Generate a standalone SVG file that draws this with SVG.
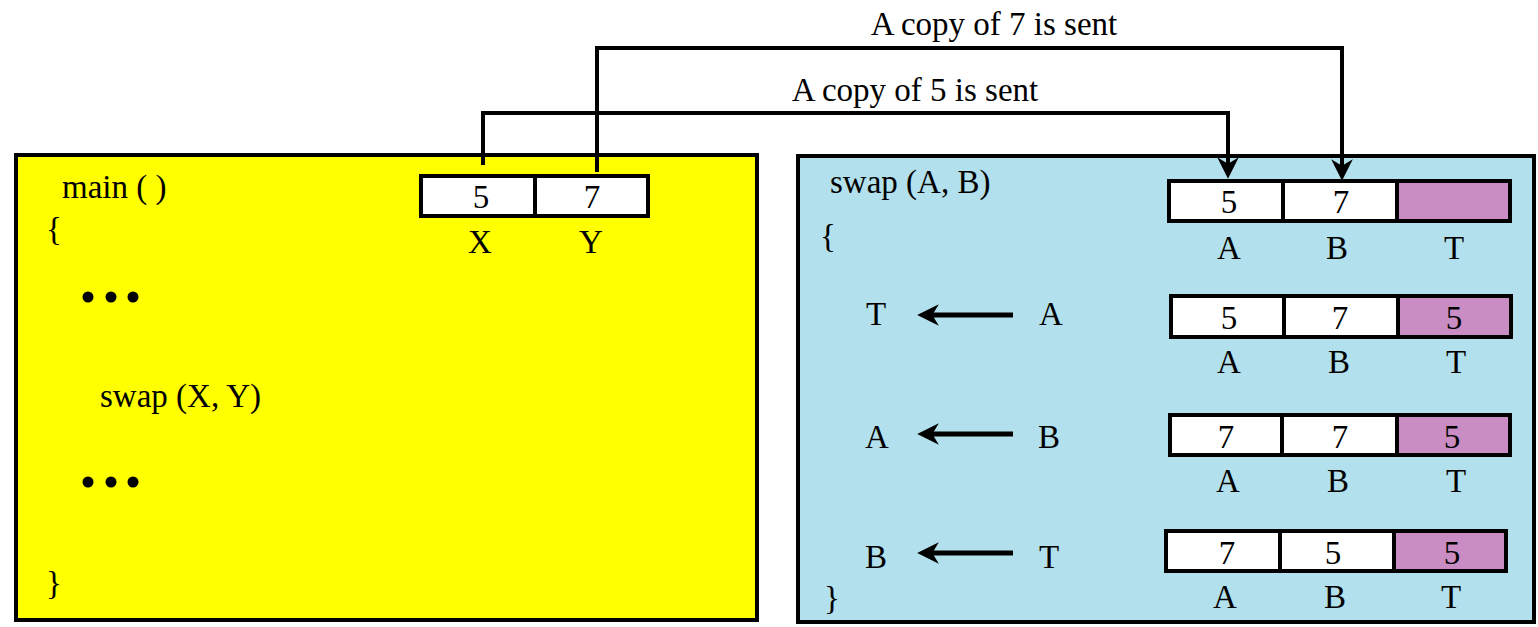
<svg xmlns="http://www.w3.org/2000/svg" width="1538" height="627" viewBox="0 0 1538 627">
<style>
text{font-family:"Liberation Serif","Times New Roman",serif;font-size:33px;fill:#000}
.c{text-anchor:middle}
.panel{stroke:#000;stroke-width:4}
.cell{fill:#fff;stroke:#000;stroke-width:4}
.tcell{fill:#C98DC3;stroke:#000;stroke-width:4}
.conn{fill:none;stroke:#000;stroke-width:4}
.asg{fill:none;stroke:#000;stroke-width:5}
</style>
<defs>
<marker id="ah" markerUnits="userSpaceOnUse" markerWidth="26" markerHeight="26" viewBox="-22 -12 24 24" refX="-10" refY="0" orient="auto">
<path d="M0,0 L-20,-10 L-14,0 L-20,10 Z" fill="#000"/>
</marker>
</defs>
<g id="main-panel">
<rect class="panel" x="16" y="155" width="741" height="465" fill="#FFFF00"/>
<text x="62" y="198">main ( )</text>
<text x="46" y="240">{</text>
<circle cx="88" cy="297" r="5.5"/><circle cx="111" cy="297" r="5.5"/><circle cx="133" cy="297" r="5.5"/>
<text x="100" y="407">swap (X, Y)</text>
<circle cx="88" cy="482" r="5.5"/><circle cx="111" cy="482" r="5.5"/><circle cx="133" cy="482" r="5.5"/>
<text x="46" y="594">}</text>
</g>
<g id="main-vars">
<rect class="cell" x="421" y="176" width="114" height="40"/>
<rect class="cell" x="535" y="176" width="113" height="40"/>
<text class="c" x="481" y="208">5</text>
<text class="c" x="592" y="208">7</text>
<text class="c" x="480" y="253">X</text>
<text class="c" x="591" y="253">Y</text>
</g>
<g id="swap-panel">
<rect class="panel" x="798" y="156" width="736" height="466" fill="#B2E0EC"/>
<text x="830" y="193">swap (A, B)</text>
<text x="820" y="247">{</text>
<text x="824" y="609">}</text>
</g>
<g id="state1">
<rect class="cell" x="1169" y="181" width="114" height="40"/>
<rect class="cell" x="1283" y="181" width="114" height="40"/>
<rect class="tcell" x="1397" y="181" width="113" height="40"/>
<text class="c" x="1229" y="213">5</text>
<text class="c" x="1341" y="213">7</text>
<text class="c" x="1229" y="259">A</text>
<text class="c" x="1337" y="259">B</text>
<text class="c" x="1454" y="259">T</text>
</g>
<g id="state2">
<rect class="cell" x="1171" y="296" width="113" height="41"/>
<rect class="cell" x="1284" y="296" width="114" height="41"/>
<rect class="tcell" x="1398" y="296" width="113" height="41"/>
<text class="c" x="1229" y="329">5</text>
<text class="c" x="1340" y="329">7</text>
<text class="c" x="1454" y="329">5</text>
<text class="c" x="1229" y="373">A</text>
<text class="c" x="1339" y="373">B</text>
<text class="c" x="1456" y="373">T</text>
</g>
<g id="state3">
<rect class="cell" x="1170" y="415" width="112" height="40"/>
<rect class="cell" x="1282" y="415" width="115" height="40"/>
<rect class="tcell" x="1397" y="415" width="113" height="40"/>
<text class="c" x="1226" y="448">7</text>
<text class="c" x="1340" y="448">7</text>
<text class="c" x="1452" y="448">5</text>
<text class="c" x="1228" y="492">A</text>
<text class="c" x="1338" y="492">B</text>
<text class="c" x="1456" y="492">T</text>
</g>
<g id="state4">
<rect class="cell" x="1166" y="531" width="114" height="40"/>
<rect class="cell" x="1280" y="531" width="114" height="40"/>
<rect class="tcell" x="1394" y="531" width="112" height="40"/>
<text class="c" x="1227" y="564">7</text>
<text class="c" x="1333" y="564">5</text>
<text class="c" x="1452" y="564">5</text>
<text class="c" x="1225" y="608">A</text>
<text class="c" x="1335" y="608">B</text>
<text class="c" x="1451" y="608">T</text>
</g>
<g id="assign1">
<text class="c" x="876" y="325">T</text>
<text class="c" x="1051" y="325">A</text>
</g>
<g id="assign2">
<text class="c" x="877" y="448">A</text>
<text class="c" x="1049" y="448">B</text>
</g>
<g id="assign3">
<text class="c" x="876" y="568">B</text>
<text class="c" x="1049" y="568">T</text>
</g>
<g id="connectors">
<path class="conn" d="M483,165 V113 H1228 V168" marker-end="url(#ah)"/>
<path class="conn" d="M597,172 V48 H1342 V170" marker-end="url(#ah)"/>
<text class="c" x="915" y="101">A copy of 5 is sent</text>
<text class="c" x="994" y="35">A copy of 7 is sent</text>
<path class="asg" d="M1013,315 H928" marker-end="url(#ah)"/>
<path class="asg" d="M1013,434 H928" marker-end="url(#ah)"/>
<path class="asg" d="M1013,553 H928" marker-end="url(#ah)"/>
</g>
</svg>
